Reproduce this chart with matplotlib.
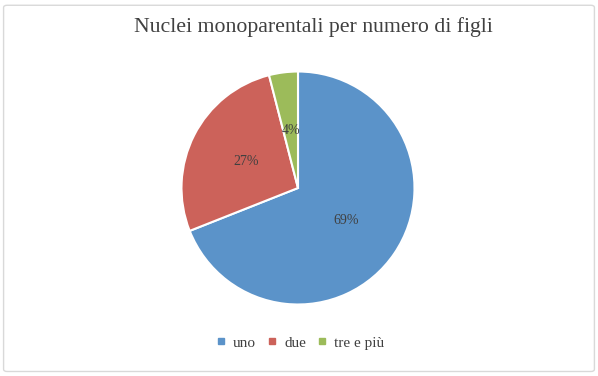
import matplotlib.pyplot as plt
from matplotlib.patches import FancyBboxPatch
from matplotlib.lines import Line2D

# Data
categories = ["uno", "due", "tre e più"]
shares = [69, 27, 4]
colors = ["#5B93C9", "#CC625A", "#9CBB5A"]
title = "Nuclei monoparentali per numero di figli"

plt.rcParams['font.family'] = ['Liberation Serif', 'DejaVu Serif']

fig = plt.figure(figsize=(5.98, 3.76), dpi=100)

# light frame around the chart area
frame = FancyBboxPatch((0.006, 0.012), 0.988, 0.974, boxstyle="round,pad=0,rounding_size=0.006",
                       transform=fig.transFigure, facecolor="none", edgecolor="#D9D9D9",
                       linewidth=1.0, zorder=-1)
fig.patches.append(frame)

# pie: centre about (298, 188) px, radius about 117 px
ax = fig.add_axes([181.5 / 598, 71.5 / 376, 233 / 598, 233 / 376])
wedges, texts, autotexts = ax.pie(
    shares, colors=colors, startangle=90, counterclock=False,
    autopct=lambda p: f"{p:.0f}%", pctdistance=0.5, radius=1,
    wedgeprops=dict(edgecolor="white", linewidth=1.5),
    textprops=dict(fontsize=10, color="#404040"),
)
ax.set_xlim(-1.0, 1.0)
ax.set_ylim(-1.0, 1.0)
ax.set_aspect("equal")

fig.text(0.524, 0.928, title, ha="center", va="center", fontsize=15.7, color="#404040")

handles = [Line2D([], [], linestyle="none", marker="s", markersize=5,
                  markerfacecolor=c, markeredgecolor=c) for c in colors]
fig.legend(handles, categories, loc="center", bbox_to_anchor=(0.502, 0.088), ncol=3,
           frameon=False, fontsize=11, handlelength=0.6, handletextpad=0.5,
           columnspacing=0.75, labelcolor="#404040")

fig.savefig("out.png", dpi=100)
